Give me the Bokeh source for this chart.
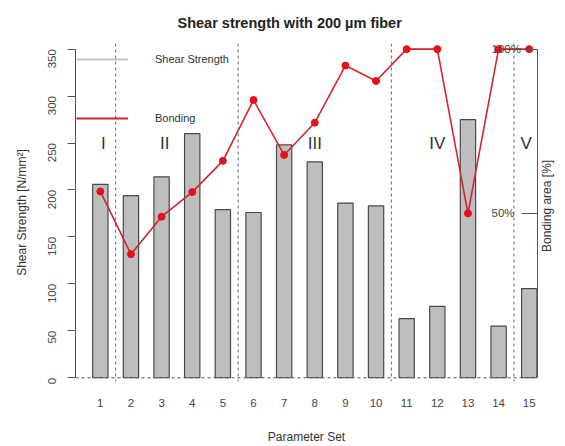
import math
from bokeh.plotting import figure
from bokeh.models import Range1d, LinearAxis, FixedTicker, Span, Legend, LegendItem
from bokeh.core.properties import value
from bokeh.embed import file_html
from bokeh.resources import INLINE

# ---- data ----
param_sets = list(range(1, 16))
shear_strength = [206, 194, 214, 260, 179, 176, 248, 230, 186, 183, 63, 76, 275, 55, 95]
bonding_pct = [56.7, 37.6, 49, 56.5, 66, 84.5, 67.8, 77.6, 95, 90.3, 100, 100, 50, 100, 100]
group_names = ["I", "II", "III", "IV", "V"]
group_x = [1.1, 3.1, 8.0, 12.0, 14.9]
group_level = [250] * len(group_names)
separators = [1.5, 5.5, 10.5, 14.5]
left_ticks = [0, 50, 100, 150, 200, 250, 300, 350]
right_ticks = [50, 100]
right_tick_labels = ["50%", "100%"]
shear_per_pct = 3.5  # 100 % bonding drawn at 350 N/mm²
legend_labels = ["Shear Strength", "Bonding"]
right_title = "Bonding area [%]"
right_title_start = 134  # height (N/mm² scale) where the right-axis title begins

FONT = "Liberation Sans"
y_lo, y_hi = -4, 356
NAN = float("nan")

p = figure(width=565, height=446, x_range=Range1d(0.19, 15.27), y_range=Range1d(y_lo, y_hi),
           output_backend="svg", toolbar_location=None,
           min_border_left=75, min_border_right=28, min_border_top=43, min_border_bottom=64,
           title="Shear strength with 200 \u00b5m fiber")
p.extra_y_ranges = {"pct": Range1d(y_lo / shear_per_pct, y_hi / shear_per_pct)}
p.xgrid.visible = False
p.ygrid.visible = False
p.outline_line_color = None
p.background_fill_color = "white"
p.border_fill_color = "white"

# the figure's own axes, taken before any extra axis is added
xa = p.below[0]
ya = p.left[0]

p.title.text_font = FONT
p.title.text_font_size = "14.5px"
p.title.text_font_style = "bold"
p.title.text_color = "#222222"
p.title.align = "left"
p.title.offset = 102
p.title.vertical_align = "bottom"
p.title.standoff = 25

# bars
p.vbar(x=param_sets, top=shear_strength, bottom=0, width=0.5,
       fill_color="#bebebe", line_color="#4a4a4a", line_width=1.2)

# dashed baseline and group separators
p.add_layout(Span(location=0, dimension="width", line_color="#555555", line_dash="3 3", line_width=1))
for s in separators:
    p.add_layout(Span(location=s, dimension="height", line_color="#666666", line_dash="3 3", line_width=1))

# bonding line
p.line(param_sets, bonding_pct, y_range_name="pct", line_color="#d1262b", line_width=1.6)
p.scatter(param_sets, bonding_pct, y_range_name="pct", size=7, marker="circle",
          fill_color="#e3121b", line_color="#e3121b")

# group labels
p.text(x=group_x, y=group_level, text=group_names, text_font=value(FONT), text_font_size="17px",
       text_align="center", text_baseline="middle", text_color="#333333")

# legend (line samples, as in the original); samples have no plotted points
leg_gray = p.line(x=[NAN], y=[NAN], line_color="#c4c4c4", line_width=2)
leg_red = p.line(x=[NAN], y=[NAN], line_color="#d1262b", line_width=2.2)
legend = Legend(items=[LegendItem(label=legend_labels[0], renderers=[leg_gray]),
                       LegendItem(label=legend_labels[1], renderers=[leg_red])],
                location=(1, 253), glyph_width=52, glyph_height=20, label_height=20,
                label_standoff=27, spacing=39, padding=0, margin=0,
                border_line_color=None, background_fill_alpha=0,
                label_text_font=FONT, label_text_font_size="11px", label_text_color="#333333")
p.add_layout(legend)

# left axis
ya.ticker = FixedTicker(ticks=left_ticks)
ya.bounds = (0, 350)
ya.major_tick_out = 8
ya.major_tick_in = 0
ya.minor_tick_line_color = None
ya.major_label_orientation = math.pi / 2
ya.major_label_standoff = 15
ya.axis_line_color = "#555555"
ya.major_tick_line_color = "#555555"
ya.major_label_text_font = FONT
ya.major_label_text_font_size = "11.5px"
ya.major_label_text_color = "#444444"
ya.axis_label = "Shear Strength [N/mm\u00b2]"
ya.axis_label_text_font = FONT
ya.axis_label_text_font_size = "12px"
ya.axis_label_text_font_style = "normal"
ya.axis_label_text_color = "#333333"
ya.axis_label_standoff = 13

# bottom axis
xa.ticker = FixedTicker(ticks=param_sets)
xa.axis_line_color = None
xa.major_tick_line_color = None
xa.minor_tick_line_color = None
xa.major_label_standoff = 11
xa.major_label_text_font = FONT
xa.major_label_text_font_size = "11.5px"
xa.major_label_text_color = "#444444"
xa.axis_label = "Parameter Set"
xa.axis_label_text_font = FONT
xa.axis_label_text_font_size = "12px"
xa.axis_label_text_font_style = "normal"
xa.axis_label_text_color = "#333333"
xa.axis_label_standoff = 20

# right axis (ticks inward, labels inside the plot)
ra = LinearAxis(y_range_name="pct", ticker=FixedTicker(ticks=right_ticks), bounds=(0, 100),
                major_label_overrides={t: lbl for t, lbl in zip(right_ticks, right_tick_labels)})
ra.major_tick_in = 16
ra.major_tick_out = 0
ra.minor_tick_line_color = None
ra.major_label_standoff = -46
ra.axis_line_color = "#555555"
ra.major_tick_line_color = "#555555"
ra.major_label_text_font = FONT
ra.major_label_text_font_size = "11.5px"
ra.major_label_text_color = "#444444"
p.add_layout(ra, "right")

# right axis title, carried as the single label of a bare axis so it sits where the original has it
ra_title = LinearAxis(ticker=FixedTicker(ticks=[right_title_start]),
                      major_label_overrides={right_title_start: right_title})
ra_title.axis_line_color = None
ra_title.major_tick_line_color = None
ra_title.minor_tick_line_color = None
ra_title.major_tick_out = 0
ra_title.major_tick_in = 0
ra_title.major_label_orientation = math.pi / 2
ra_title.major_label_standoff = 10
ra_title.major_label_text_font = FONT
ra_title.major_label_text_font_size = "12px"
ra_title.major_label_text_color = "#333333"
p.add_layout(ra_title, "right")

open("out.html", "w").write(file_html(p, INLINE))
